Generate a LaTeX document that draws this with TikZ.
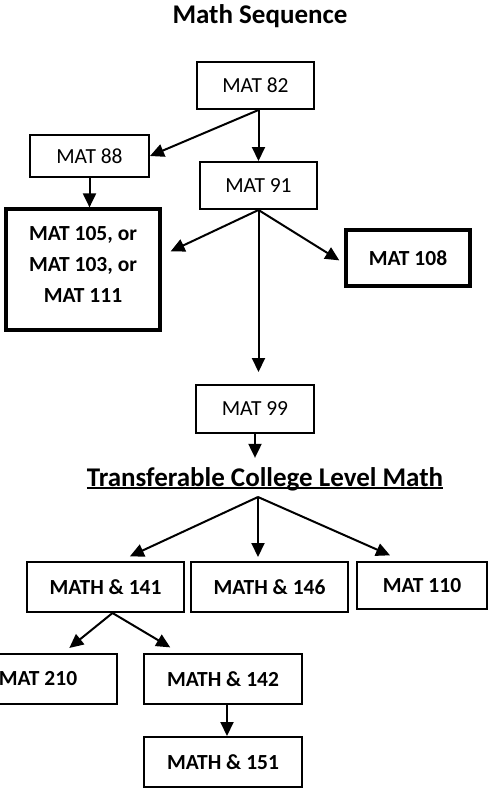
\documentclass[tikz,border=0pt]{standalone}
\usepackage{fontspec}
\setmainfont{Carlito}
\usetikzlibrary{arrows.meta, positioning, calc}
\newcommand\thickuline[1]{\setbox0\hbox{#1}\rlap{\rule[-2.5pt]{\wd0}{1.6pt}}\box0}

\begin{document}
\begin{tikzpicture}[
    x=1pt, y=-1pt,
    course/.style={draw, line width=2pt, inner sep=0pt, minimum height=48pt, font=\fontsize{21.5}{31}\selectfont, align=center},
    college/.style={course, font=\fontsize{21.5}{31}\selectfont\bfseries, minimum height=50pt},
    heavy/.style={college, line width=3.2pt},
    heading/.style={font=\fontsize{27}{30}\selectfont\bfseries, inner sep=0pt, anchor=base},
    link/.style={-{Triangle[length=14pt, width=13pt]}, line width=2pt},
]
    \useasboundingbox (0,0) rectangle (490,788);

    % Headings
    \node[heading] (seq) at (260,23) {Math Sequence};
    \node[heading] (tclm) at (265,486) {\thickuline{Transferable College Level Math}};

    % Developmental courses
    \node[course, minimum width=117pt, minimum height=47pt] (m82) at (255.5,85.5) {MAT 82};
    \node[course, minimum width=119pt, minimum height=42pt] (m88) at (89.5,156) {MAT 88};
    \node[course, minimum width=117pt, minimum height=47pt] (m91) at (258.5,185.5) {MAT 91};
    \node[heavy, minimum width=154pt, minimum height=121pt] (m105) at (83,269.5) {MAT 105, or\\MAT 103, or\\MAT 111\\[-21pt]};
    \node[heavy, minimum width=124pt, minimum height=56pt] (m108) at (408,258) {MAT 108};
    \node[course, minimum width=118pt] (m99) at (255,409) {MAT 99};

    % College level
    \node[college, minimum width=157pt] (m141) at (105.5,587) {MATH \& 141};
    \node[college, minimum width=157pt] (m146) at (269.5,587) {MATH \& 146};
    \node[college, minimum width=130pt, minimum height=47pt] (m110) at (422,585.5) {MAT 110};
    \node[college, minimum width=158pt] (m210) at (38,679) {MAT 210};
    \node[college, minimum width=158pt] (m142) at (223,679) {MATH \& 142};
    \node[college, minimum width=158pt] (m151) at (223,762) {MATH \& 151};

    \coordinate (tsplit) at (258,497);
    \coordinate (s141) at ([xshift=7pt]m141.south);

    % Arrows
    \draw[link] ([xshift=3pt]m82.south) -- (m88.east);
    \draw[link] ([xshift=3pt]m82.south) -- (m91.north);
    \draw[link] (m88.south) -- (m88.south |- m105.north);
    \draw[link, shorten >=10pt] (m91.south) -- (m105.10);
    \draw[link, shorten >=6pt] (m91.south) -- (m108.185);
    \draw[link, shorten >=12pt] (m91.south) -- (m91.south |- m99.north);
    \draw[link, shorten >=9pt] (m99.south) -- (m99.south |- tclm.north);
    \draw[link, shorten >=11pt] (tsplit) -- (m141.61);
    \draw[link, shorten >=4pt] (tsplit) -- (tsplit |- m146.north);
    \draw[link, shorten >=14pt] (tsplit) -- (m110.128);
    \draw[link, shorten >=8pt] (s141) -- (m210.46);
    \draw[link, shorten >=11pt] (s141) -- (m142.149);
    \draw[link] ([xshift=4pt]m142.south) -- ([xshift=4pt]m151.north);
\end{tikzpicture}
\end{document}
